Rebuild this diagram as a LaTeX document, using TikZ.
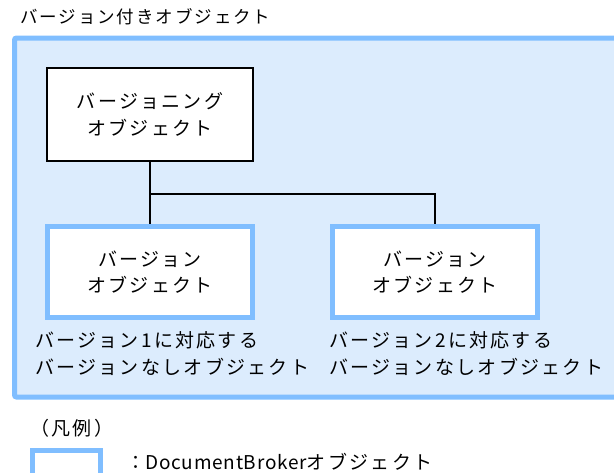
\documentclass[tikz,border=0pt]{standalone}
\usepackage{fontspec}
\setmainfont[LetterSpace=12]{Noto Sans CJK JP}
\newfontfamily\titlef[LetterSpace=11]{Noto Sans CJK JP}
\newfontfamily\latinf[LetterSpace=4]{Noto Sans CJK JP}
\definecolor{bluebd}{RGB}{128,190,255}
\definecolor{bluebg}{RGB}{220,236,253}
\tikzset{
  txt/.style={font=\fontsize{19}{26.5}\selectfont, inner sep=0pt},
  docbox/.style={draw=bluebd, line width=5pt, fill=white, minimum width=205pt, minimum height=91pt, inner sep=0pt, txt, align=center},
  plainbox/.style={draw=black, line width=1.5pt, fill=white, minimum width=206pt, minimum height=93pt, inner sep=0pt, txt, align=center},
  conn/.style={draw=black, line width=1.5pt}
}
\begin{document}
\begin{tikzpicture}[x=1pt, y=-1pt]
\useasboundingbox (0,0) rectangle (614,472);
\clip (0,0) rectangle (614,472);
% title
\node[inner sep=0pt, font=\titlef\fontsize{17.5}{20}\selectfont, anchor=west] (title) at (20,17) {バージョン付きオブジェクト};
% outer container
\draw[draw=bluebd, fill=bluebg, line width=5pt, rounded corners=2pt] (14.5,38) rectangle (630,397);
% nodes
\node[plainbox] (top) at (150,114.5) {バージョニング\\オブジェクト};
\node[docbox] (left) at (150,272) {バージョン\\オブジェクト};
\node[docbox] (right) at (435,272) {バージョン\\オブジェクト};
% connectors
\coordinate (j) at (150,194);
\draw[conn] (top.south) -- (left.north);
\draw[conn] (j) -| (right.north);
% labels
\node[txt, anchor=west, align=left] (lab1) at (35,353.5) {バージョン1に対応する\\バージョンなしオブジェクト};
\node[txt, anchor=west, align=left] (lab2) at (329,353.5) {バージョン2に対応する\\バージョンなしオブジェクト};
% legend
\node[txt, anchor=west] (legend) at (30,428) {（凡例）};
\node[draw=bluebd, line width=5pt, fill=white, minimum width=68pt, minimum height=50pt, inner sep=0pt] (lbox) at (66.5,475) {};
\node[txt, anchor=west] (ltext) at (126,462) {：{\latinf DocumentBroker}オブジェクト};
\end{tikzpicture}
\end{document}
